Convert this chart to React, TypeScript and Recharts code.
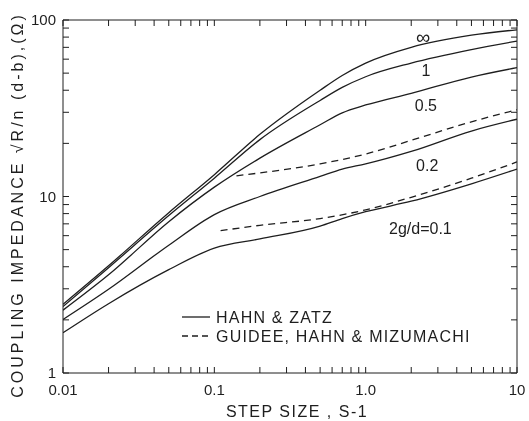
import React from 'react'
import { LineChart, Line, XAxis, YAxis, ReferenceDot } from 'recharts'

// axis ticks (log decades)
const xMajor = [0.01, 0.1, 1, 10]
const xLabels = ['0.01', '0.1', '1.0', '10']
const xMinor = [0.02, 0.03, 0.04, 0.05, 0.06, 0.07, 0.08, 0.09, 0.2, 0.3, 0.4, 0.5, 0.6, 0.7, 0.8, 0.9, 2, 3, 4, 5, 6, 7, 8, 9]
const yMajor = [1, 10, 100]
const yLabels = ['1', '10', '100']
const yMinor = [2, 3, 4, 5, 6, 7, 8, 9, 20, 30, 40, 50, 60, 70, 80, 90]

// Hahn & Zatz (solid)
const steps = [0.01, 0.02, 0.05, 0.1, 0.2, 0.5, 0.7, 1, 2, 5, 10]
const hzInf = [2.45, 4.05, 8.1, 13.3, 22.5, 40, 48.5, 57, 70, 82, 88]
const hz1 = [2.38, 3.95, 7.8, 12.7, 21, 35, 41.5, 47.7, 57, 68, 76]
const hz05 = [2.27, 3.6, 7.2, 11.3, 16.5, 25.5, 29.8, 33, 38.4, 47.5, 53.7]
const hz02 = [2.01, 2.98, 5.3, 7.9, 10, 13, 14.3, 15.3, 18, 23.5, 27.4]
const hz01 = [1.69, 2.47, 3.85, 5.1, 5.75, 6.8, 7.5, 8.2, 9.4, 11.8, 14.3]

// Guidee, Hahn & Mizumachi (dashed)
const ghmSteps02 = [0.14, 0.2, 0.5, 1, 2, 5, 10]
const ghm02 = [13.1, 13.6, 15.3, 17.4, 20.8, 26.5, 31]
const ghmSteps01 = [0.11, 0.2, 0.5, 1, 2, 5, 10]
const ghm01 = [6.4, 6.87, 7.5, 8.4, 9.9, 12.7, 15.7]

const toPts = (xs: number[], ys: number[]) => xs.map((x, i) => ({ x, y: ys[i] }))

const solid = [hzInf, hz1, hz05, hz02, hz01].map(ys => toPts(steps, ys))
const dashed = [toPts(ghmSteps02, ghm02), toPts(ghmSteps01, ghm01)]

const FONT = '"Liberation Sans", Arial, sans-serif'
const INK = '#1e1e1e'
const xTicks = [...xMajor, ...xMinor]
const yTicks = [...yMajor, ...yMinor]

function BottomTick(props: any) {
  const { x, y, payload } = props
  const i = xMajor.indexOf(payload.value)
  if (i < 0) return <g />
  return (
    <text x={x} y={y + 22} textAnchor="middle" fontSize={15} fill={INK} fontFamily={FONT}>
      {xLabels[i]}
    </text>
  )
}

function LeftTick(props: any) {
  const { x, y, payload } = props
  const i = yMajor.indexOf(payload.value)
  if (i < 0) return <g />
  return (
    <text x={x - 7} y={y} dy="0.36em" textAnchor="end" fontSize={15} fill={INK} fontFamily={FONT}>
      {yLabels[i]}
    </text>
  )
}

const curveLabels = [
  { x: 2.4, y: 80, text: '∞' },
  { x: 2.5, y: 52, text: '1' },
  { x: 2.5, y: 33, text: '0.5' },
  { x: 2.55, y: 15.1, text: '0.2' },
  { x: 2.3, y: 6.6, text: '2g/d=0.1' },
]

const axisCommon = {
  type: 'number' as const,
  scale: 'log' as const,
  allowDataOverflow: true,
  interval: 0,
  tickSize: -6,
  tickMargin: 6,
  axisLine: { stroke: INK },
  tickLine: { stroke: INK },
}

export default function App() {
  return (
    <div style={{ position: 'fixed', left: 0, top: 0, width: 529, height: 421 }}>
      <LineChart width={529} height={421} margin={{ top: 19, right: 11, bottom: 18, left: 18 }}>
        <XAxis {...axisCommon} dataKey="x" domain={[0.01, 10]} ticks={xTicks} height={30} tick={<BottomTick />} />
        <XAxis {...axisCommon} xAxisId="top" orientation="top" dataKey="x" domain={[0.01, 10]} ticks={xTicks} height={1} tick={<g />} />
        <YAxis {...axisCommon} domain={[1, 100]} ticks={yTicks} width={45} tick={<LeftTick />} />
        <YAxis {...axisCommon} yAxisId="right" orientation="right" domain={[1, 100]} ticks={yTicks} width={1} tick={<g />} />
        {solid.map((d, i) => (
          <Line
            key={'hz' + i}
            data={d}
            dataKey="y"
            type="monotone"
            stroke={INK}
            strokeWidth={1.3}
            dot={false}
            isAnimationActive={false}
          />
        ))}
        {dashed.map((d, i) => (
          <Line
            key={'ghm' + i}
            data={d}
            dataKey="y"
            type="monotone"
            stroke={INK}
            strokeWidth={1.3}
            strokeDasharray="7 5"
            dot={false}
            isAnimationActive={false}
          />
        ))}
        {/* keeps the mirrored top/right frame axes bound to data */}
        <Line
          data={solid[0]}
          dataKey="y"
          xAxisId="top"
          yAxisId="right"
          stroke="none"
          dot={false}
          activeDot={false}
          legendType="none"
          isAnimationActive={false}
        />
        {curveLabels.map(l => (
          <ReferenceDot
            key={l.text}
            x={l.x}
            y={l.y}
            r={0}
            fill="none"
            stroke="none"
            label={{ value: l.text, position: 'center', fontSize: l.text === '∞' ? 20 : 16, fill: INK, fontFamily: FONT }}
          />
        ))}
      </LineChart>
      <svg
        width={529}
        height={421}
        style={{ position: 'absolute', left: 0, top: 0, pointerEvents: 'none' }}
        fontFamily={FONT}
        fill={INK}
      >
        <line x1={182} y1={317} x2={210} y2={317} stroke={INK} strokeWidth={1.3} />
        <text x={216} y={317} dy="0.36em" fontSize={16} letterSpacing={1.2}>HAHN &amp; ZATZ</text>
        <line x1={182} y1={336} x2={210} y2={336} stroke={INK} strokeWidth={1.3} strokeDasharray="6 4" />
        <text x={216} y={336} dy="0.36em" fontSize={16} letterSpacing={1.2}>GUIDEE, HAHN &amp; MIZUMACHI</text>
        <text x={297} y={411} dy="0.36em" textAnchor="middle" fontSize={16} letterSpacing={1.5}>STEP SIZE , S-1</text>
        <text
          x={17}
          y={205}
          dy="0.36em"
          textAnchor="middle"
          fontSize={16}
          letterSpacing={3}
          transform="rotate(-90 17 205)"
        >
          COUPLING IMPEDANCE √R/n (d-b),(Ω)
        </text>
      </svg>
    </div>
  )
}
